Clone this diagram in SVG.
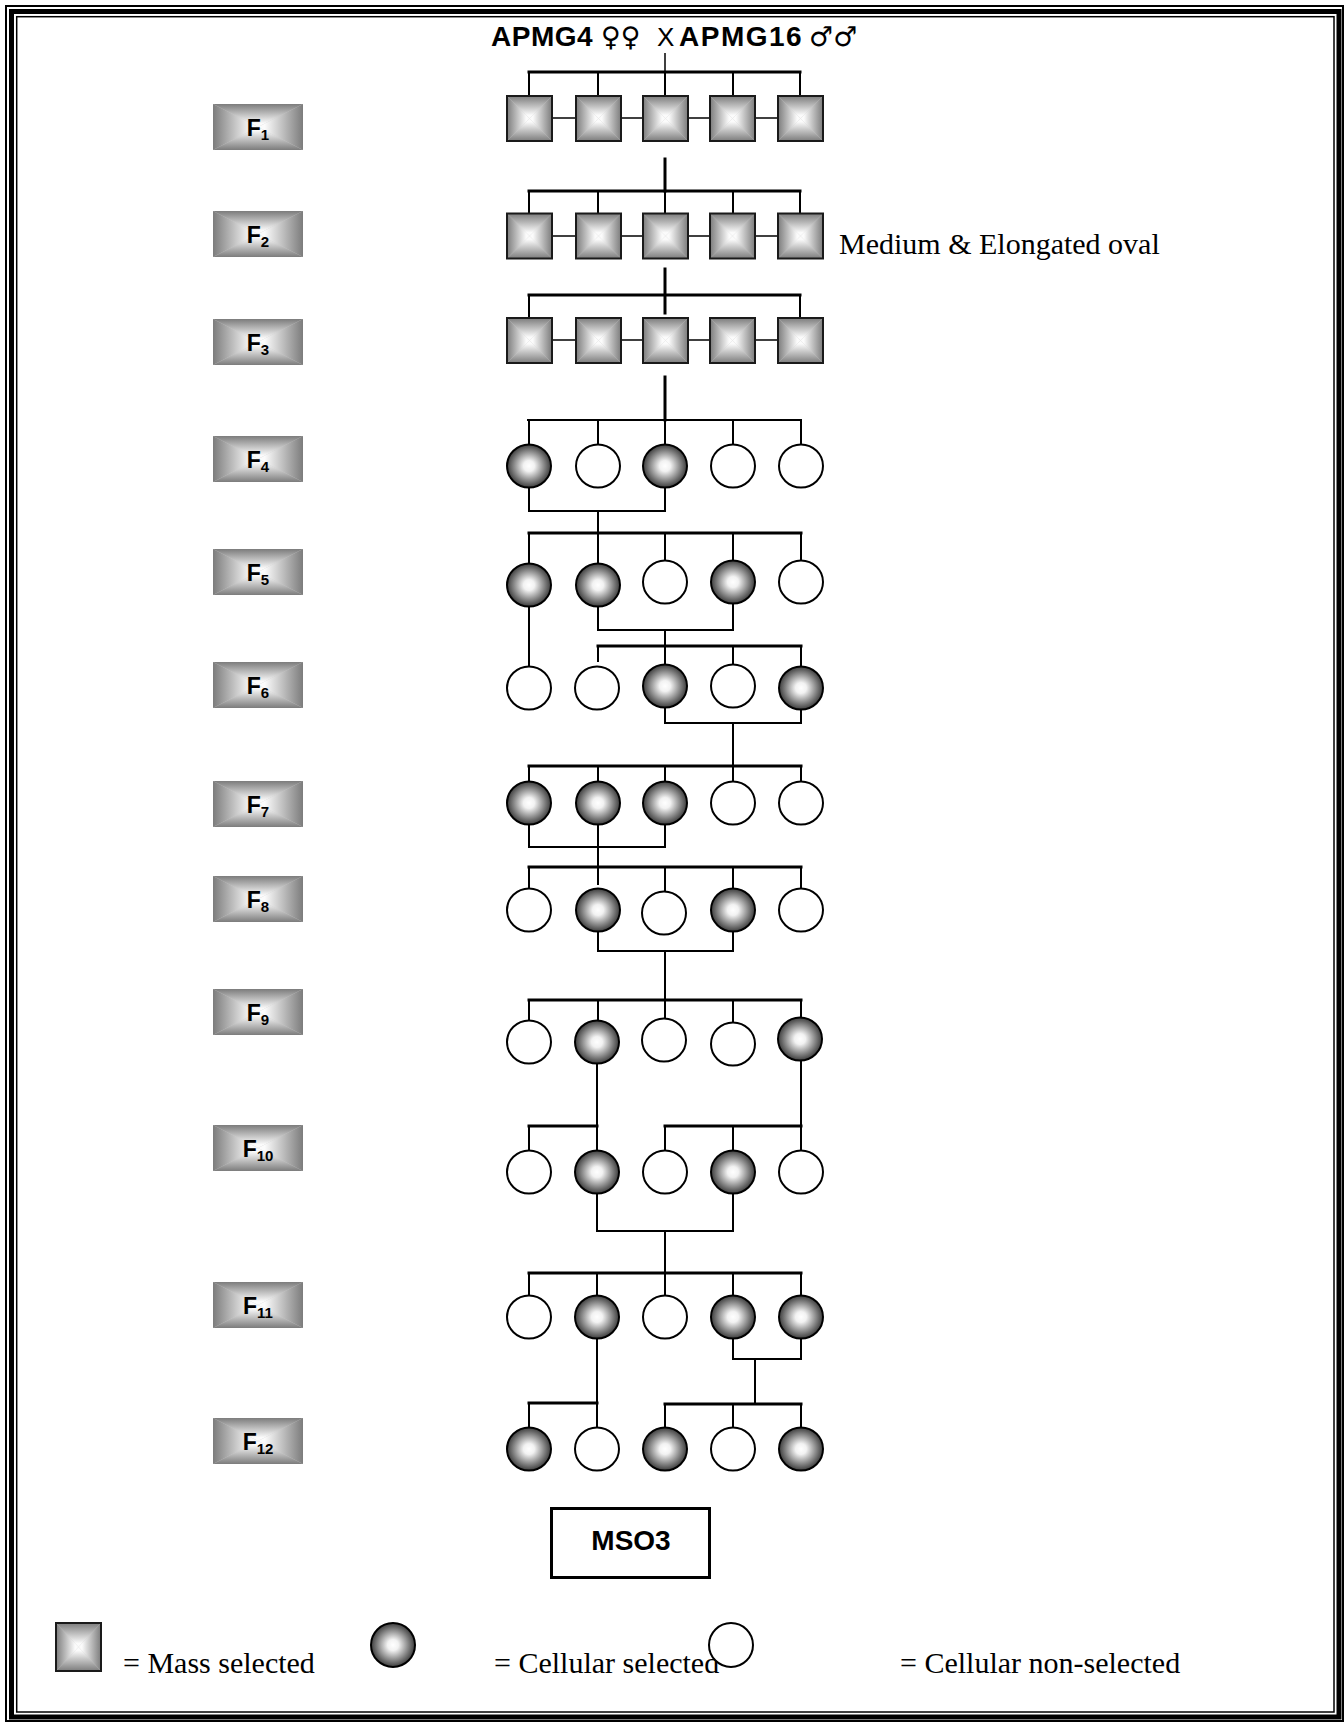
<svg xmlns="http://www.w3.org/2000/svg" width="1344" height="1722" viewBox="0 0 1344 1722">
<style>
.frame{fill:none;stroke:#000}
.ln{fill:none;stroke:#000;stroke-width:2;stroke-linecap:square}
.tk{fill:none;stroke:#000;stroke-width:3;stroke-linecap:square}
.hl{fill:none;stroke:#000;stroke-width:1.5}
.sq{fill:none;stroke:#1a1a1a;stroke-width:2}
.sel{fill:url(#cg);stroke:#000;stroke-width:2}
.non{fill:#fff;stroke:#000;stroke-width:2}
.lab{font-family:"Liberation Sans",Arial,sans-serif;font-weight:bold;font-size:23px;fill:#000}
.sub{font-size:15px}
.title{font-family:"Liberation Sans","DejaVu Sans",Arial,sans-serif;font-size:28px;fill:#000}
.sym{font-family:"DejaVu Sans",sans-serif;font-size:27px;font-weight:normal}
.tnr{font-family:"Liberation Serif","Times New Roman",serif;font-size:30px;fill:#000}
</style>
<defs>
<linearGradient id="gT" x1="0" y1="0" x2="0" y2="1"><stop offset="0" stop-color="#7c7c7c"/><stop offset="0.85" stop-color="#fbfbfb"/></linearGradient>
<linearGradient id="gB" x1="0" y1="1" x2="0" y2="0"><stop offset="0" stop-color="#7c7c7c"/><stop offset="0.85" stop-color="#fbfbfb"/></linearGradient>
<linearGradient id="gL" x1="0" y1="0" x2="1" y2="0"><stop offset="0" stop-color="#7c7c7c"/><stop offset="0.85" stop-color="#fbfbfb"/></linearGradient>
<linearGradient id="gR" x1="1" y1="0" x2="0" y2="0"><stop offset="0" stop-color="#7c7c7c"/><stop offset="0.85" stop-color="#fbfbfb"/></linearGradient>
<radialGradient id="cg" cx="0.5" cy="0.5" r="0.5"><stop offset="0" stop-color="#ffffff"/><stop offset="0.25" stop-color="#f2f2f2"/><stop offset="1" stop-color="#3c3c3c"/></radialGradient>
<symbol id="rg" viewBox="0 0 100 100" preserveAspectRatio="none">
<rect x="0" y="0" width="100" height="100" fill="#c8c8c8"/>
<polygon points="0,0 100,0 50,50" fill="url(#gT)"/>
<polygon points="0,100 100,100 50,50" fill="url(#gB)"/>
<polygon points="0,0 0,100 50,50" fill="url(#gL)"/>
<polygon points="100,0 100,100 50,50" fill="url(#gR)"/>
</symbol>
</defs>
<rect width="1344" height="1722" fill="#fff"/>
<g id="frame">
<rect class="frame" x="6" y="6" width="1337" height="1715" stroke-width="2"/>
<rect class="frame" x="11.5" y="11.5" width="1327.5" height="1705.5" stroke-width="5"/>
<rect class="frame" x="16.7" y="16.7" width="1317.3" height="1695.3" stroke-width="1.5"/>
</g>
<g id="title">
<text class="title" y="46"><tspan x="491" font-weight="bold" letter-spacing="0.5">APMG4</tspan><tspan class="sym" x="601">♀♀</tspan><tspan x="657" font-size="26">X</tspan><tspan x="679" font-weight="bold" letter-spacing="1.5">APMG16</tspan><tspan class="sym" x="809">♂♂</tspan></text>
</g>
<g id="connectors">
<line class="hl" x1="665" y1="53" x2="665" y2="72"/>
<line class="tk" x1="529" y1="72" x2="800" y2="72"/>
<path class="ln" d="M529,72V96M598,72V96M665,72V96M733,72V96M800,72V96" stroke-width="2.5"/>
<line class="hl" x1="530" y1="118" x2="800" y2="118"/>
<line class="tk" x1="665" y1="159" x2="665" y2="191"/>
<line class="tk" x1="529" y1="191" x2="800" y2="191"/>
<path class="ln" d="M529,191V213M598,191V213M665,191V213M733,191V213M800,191V213" stroke-width="2.5"/>
<line class="hl" x1="530" y1="236" x2="800" y2="236"/>
<line class="tk" x1="665" y1="269" x2="665" y2="313"/>
<line class="tk" x1="529" y1="295" x2="800" y2="295"/>
<path class="ln" d="M529,295V318M800,295V318" stroke-width="2.5"/>
<line class="hl" x1="530" y1="340" x2="800" y2="340"/>
<line class="tk" x1="665" y1="377" x2="665" y2="420"/>
<line class="ln" x1="528" y1="420" x2="801" y2="420"/>
<path class="ln" d="M529,420V445M598,420V445M665,420V445M733,420V445M801,420V445"/>
<path class="ln" d="M529,478V511H665V487M598,511V533"/>
<line class="tk" x1="529" y1="533" x2="801" y2="533"/>
<path class="ln" d="M529,533V562M665,533V561M733,533V561M801,533V561"/>
<line class="ln" x1="598" y1="533" x2="598" y2="563" stroke-width="2.5"/>
<path class="ln" d="M598,607V630H733V604M665,630V665"/>
<line class="ln" x1="529" y1="607" x2="529" y2="666"/>
<line class="tk" x1="598" y1="646" x2="801" y2="646"/>
<path class="ln" d="M598,646V661M733,646V664M801,646V666"/>
<path class="ln" d="M665,708V723H801V709M733,723V766"/>
<line class="tk" x1="529" y1="766" x2="801" y2="766"/>
<path class="ln" d="M529,766V782M598,766V782M665,766V782M733,766V782M801,766V782"/>
<path class="ln" d="M529,825V847H665V825M598,825V884"/>
<line class="tk" x1="529" y1="867" x2="801" y2="867"/>
<path class="ln" d="M529,867V888M665,867V891M733,867V888M801,867V888"/>
<path class="ln" d="M598,931V951H733V931M665,951V1000"/>
<line class="tk" x1="529" y1="1000" x2="801" y2="1000"/>
<path class="ln" d="M529,1000V1020M598,1000V1020M665,1000V1018M733,1000V1022M801,1000V1018"/>
<path class="ln" d="M597,1063V1150M801,1061V1151"/>
<line class="tk" x1="529" y1="1126" x2="597" y2="1126"/>
<line class="tk" x1="665" y1="1126" x2="801" y2="1126"/>
<path class="ln" d="M529,1126V1151M665,1126V1151M733,1126V1151"/>
<path class="ln" d="M597,1194V1231H733V1194M665,1231V1273"/>
<line class="tk" x1="529" y1="1273" x2="801" y2="1273"/>
<path class="ln" d="M529,1273V1295M597,1273V1295M665,1273V1295M733,1273V1295M801,1273V1295"/>
<path class="ln" d="M597,1339V1428"/>
<path class="ln" d="M733,1339V1359H801V1337M755,1359V1404"/>
<line class="tk" x1="529" y1="1403" x2="597" y2="1403"/>
<line class="tk" x1="665" y1="1404" x2="801" y2="1404"/>
<path class="ln" d="M529,1403V1427M665,1404V1427M733,1404V1427M801,1404V1427"/>
</g>
<g id="labels">
<g id="label-F1"><use href="#rg" x="213" y="104" width="90" height="46"/><text class="lab" x="258" y="136" text-anchor="middle">F<tspan class="sub" dy="4">1</tspan></text></g>
<g id="label-F2"><use href="#rg" x="213" y="211" width="90" height="46"/><text class="lab" x="258" y="243" text-anchor="middle">F<tspan class="sub" dy="4">2</tspan></text></g>
<g id="label-F3"><use href="#rg" x="213" y="319" width="90" height="46"/><text class="lab" x="258" y="351" text-anchor="middle">F<tspan class="sub" dy="4">3</tspan></text></g>
<g id="label-F4"><use href="#rg" x="213" y="436" width="90" height="46"/><text class="lab" x="258" y="468" text-anchor="middle">F<tspan class="sub" dy="4">4</tspan></text></g>
<g id="label-F5"><use href="#rg" x="213" y="549" width="90" height="46"/><text class="lab" x="258" y="581" text-anchor="middle">F<tspan class="sub" dy="4">5</tspan></text></g>
<g id="label-F6"><use href="#rg" x="213" y="662" width="90" height="46"/><text class="lab" x="258" y="694" text-anchor="middle">F<tspan class="sub" dy="4">6</tspan></text></g>
<g id="label-F7"><use href="#rg" x="213" y="781" width="90" height="46"/><text class="lab" x="258" y="813" text-anchor="middle">F<tspan class="sub" dy="4">7</tspan></text></g>
<g id="label-F8"><use href="#rg" x="213" y="876" width="90" height="46"/><text class="lab" x="258" y="908" text-anchor="middle">F<tspan class="sub" dy="4">8</tspan></text></g>
<g id="label-F9"><use href="#rg" x="213" y="989" width="90" height="46"/><text class="lab" x="258" y="1021" text-anchor="middle">F<tspan class="sub" dy="4">9</tspan></text></g>
<g id="label-F10"><use href="#rg" x="213" y="1125" width="90" height="46"/><text class="lab" x="258" y="1157" text-anchor="middle">F<tspan class="sub" dy="4">10</tspan></text></g>
<g id="label-F11"><use href="#rg" x="213" y="1282" width="90" height="46"/><text class="lab" x="258" y="1314" text-anchor="middle">F<tspan class="sub" dy="4">11</tspan></text></g>
<g id="label-F12"><use href="#rg" x="213" y="1418" width="90" height="46"/><text class="lab" x="258" y="1450" text-anchor="middle">F<tspan class="sub" dy="4">12</tspan></text></g>
</g>
<g id="gen-F1">
<g id="F1-1"><use href="#rg" x="507" y="96" width="45" height="45"/><rect class="sq" x="507" y="96" width="45" height="45"/></g>
<g id="F1-2"><use href="#rg" x="576" y="96" width="45" height="45"/><rect class="sq" x="576" y="96" width="45" height="45"/></g>
<g id="F1-3"><use href="#rg" x="643" y="96" width="45" height="45"/><rect class="sq" x="643" y="96" width="45" height="45"/></g>
<g id="F1-4"><use href="#rg" x="710" y="96" width="45" height="45"/><rect class="sq" x="710" y="96" width="45" height="45"/></g>
<g id="F1-5"><use href="#rg" x="778" y="96" width="45" height="45"/><rect class="sq" x="778" y="96" width="45" height="45"/></g>
</g>
<g id="gen-F2">
<g id="F2-1"><use href="#rg" x="507" y="213.5" width="45" height="45"/><rect class="sq" x="507" y="213.5" width="45" height="45"/></g>
<g id="F2-2"><use href="#rg" x="576" y="213.5" width="45" height="45"/><rect class="sq" x="576" y="213.5" width="45" height="45"/></g>
<g id="F2-3"><use href="#rg" x="643" y="213.5" width="45" height="45"/><rect class="sq" x="643" y="213.5" width="45" height="45"/></g>
<g id="F2-4"><use href="#rg" x="710" y="213.5" width="45" height="45"/><rect class="sq" x="710" y="213.5" width="45" height="45"/></g>
<g id="F2-5"><use href="#rg" x="778" y="213.5" width="45" height="45"/><rect class="sq" x="778" y="213.5" width="45" height="45"/></g>
</g>
<g id="gen-F3">
<g id="F3-1"><use href="#rg" x="507" y="318" width="45" height="45"/><rect class="sq" x="507" y="318" width="45" height="45"/></g>
<g id="F3-2"><use href="#rg" x="576" y="318" width="45" height="45"/><rect class="sq" x="576" y="318" width="45" height="45"/></g>
<g id="F3-3"><use href="#rg" x="643" y="318" width="45" height="45"/><rect class="sq" x="643" y="318" width="45" height="45"/></g>
<g id="F3-4"><use href="#rg" x="710" y="318" width="45" height="45"/><rect class="sq" x="710" y="318" width="45" height="45"/></g>
<g id="F3-5"><use href="#rg" x="778" y="318" width="45" height="45"/><rect class="sq" x="778" y="318" width="45" height="45"/></g>
</g>
<g id="gen-F4">
<ellipse id="F4-1" class="sel" cx="529" cy="466" rx="22" ry="21.5"/>
<ellipse id="F4-2" class="non" cx="598" cy="466" rx="22" ry="21.5"/>
<ellipse id="F4-3" class="sel" cx="665" cy="466" rx="22" ry="21.5"/>
<ellipse id="F4-4" class="non" cx="733" cy="466" rx="22" ry="21.5"/>
<ellipse id="F4-5" class="non" cx="801" cy="466" rx="22" ry="21.5"/>
</g>
<g id="gen-F5">
<ellipse id="F5-1" class="sel" cx="529" cy="585" rx="22" ry="21.5"/>
<ellipse id="F5-2" class="sel" cx="598" cy="585" rx="22" ry="21.5"/>
<ellipse id="F5-3" class="non" cx="665" cy="582" rx="22" ry="21.5"/>
<ellipse id="F5-4" class="sel" cx="733" cy="582" rx="22" ry="21.5"/>
<ellipse id="F5-5" class="non" cx="801" cy="582" rx="22" ry="21.5"/>
</g>
<g id="gen-F6">
<ellipse id="F6-1" class="non" cx="529" cy="688" rx="22" ry="21.5"/>
<ellipse id="F6-2" class="non" cx="597" cy="688" rx="22" ry="21.5"/>
<ellipse id="F6-3" class="sel" cx="665" cy="686" rx="22" ry="21.5"/>
<ellipse id="F6-4" class="non" cx="733" cy="686" rx="22" ry="21.5"/>
<ellipse id="F6-5" class="sel" cx="801" cy="688" rx="22" ry="21.5"/>
</g>
<g id="gen-F7">
<ellipse id="F7-1" class="sel" cx="529" cy="803" rx="22" ry="21.5"/>
<ellipse id="F7-2" class="sel" cx="598" cy="803" rx="22" ry="21.5"/>
<ellipse id="F7-3" class="sel" cx="665" cy="803" rx="22" ry="21.5"/>
<ellipse id="F7-4" class="non" cx="733" cy="803" rx="22" ry="21.5"/>
<ellipse id="F7-5" class="non" cx="801" cy="803" rx="22" ry="21.5"/>
</g>
<g id="gen-F8">
<ellipse id="F8-1" class="non" cx="529" cy="910" rx="22" ry="21.5"/>
<ellipse id="F8-2" class="sel" cx="598" cy="910" rx="22" ry="21.5"/>
<ellipse id="F8-3" class="non" cx="664" cy="913" rx="22" ry="21.5"/>
<ellipse id="F8-4" class="sel" cx="733" cy="910" rx="22" ry="21.5"/>
<ellipse id="F8-5" class="non" cx="801" cy="910" rx="22" ry="21.5"/>
</g>
<g id="gen-F9">
<ellipse id="F9-1" class="non" cx="529" cy="1042" rx="22" ry="21.5"/>
<ellipse id="F9-2" class="sel" cx="597" cy="1042" rx="22" ry="21.5"/>
<ellipse id="F9-3" class="non" cx="664" cy="1040" rx="22" ry="21.5"/>
<ellipse id="F9-4" class="non" cx="733" cy="1044" rx="22" ry="21.5"/>
<ellipse id="F9-5" class="sel" cx="800" cy="1039" rx="22" ry="21.5"/>
</g>
<g id="gen-F10">
<ellipse id="F10-1" class="non" cx="529" cy="1172" rx="22" ry="21.5"/>
<ellipse id="F10-2" class="sel" cx="597" cy="1172" rx="22" ry="21.5"/>
<ellipse id="F10-3" class="non" cx="665" cy="1172" rx="22" ry="21.5"/>
<ellipse id="F10-4" class="sel" cx="733" cy="1172" rx="22" ry="21.5"/>
<ellipse id="F10-5" class="non" cx="801" cy="1172" rx="22" ry="21.5"/>
</g>
<g id="gen-F11">
<ellipse id="F11-1" class="non" cx="529" cy="1317" rx="22" ry="21.5"/>
<ellipse id="F11-2" class="sel" cx="597" cy="1317" rx="22" ry="21.5"/>
<ellipse id="F11-3" class="non" cx="665" cy="1317" rx="22" ry="21.5"/>
<ellipse id="F11-4" class="sel" cx="733" cy="1317" rx="22" ry="21.5"/>
<ellipse id="F11-5" class="sel" cx="801" cy="1317" rx="22" ry="21.5"/>
</g>
<g id="gen-F12">
<ellipse id="F12-1" class="sel" cx="529" cy="1449" rx="22" ry="21.5"/>
<ellipse id="F12-2" class="non" cx="597" cy="1449" rx="22" ry="21.5"/>
<ellipse id="F12-3" class="sel" cx="665" cy="1449" rx="22" ry="21.5"/>
<ellipse id="F12-4" class="non" cx="733" cy="1449" rx="22" ry="21.5"/>
<ellipse id="F12-5" class="sel" cx="801" cy="1449" rx="22" ry="21.5"/>
</g>
<g id="note">
<text class="tnr" x="839" y="254">Medium &amp; Elongated oval</text>
</g>
<g id="MSO3">
<rect x="551.5" y="1508.5" width="158" height="69" fill="#fff" stroke="#000" stroke-width="3"/>
<text class="title" x="631" y="1550" text-anchor="middle" font-weight="bold">MSO3</text>
</g>
<g id="legend">
<g id="legend-mass"><use href="#rg" x="56" y="1623" width="45" height="48"/><rect class="sq" x="56" y="1623" width="45" height="48"/><text class="tnr" x="123" y="1673">= Mass selected</text></g>
<g id="legend-sel"><ellipse class="sel" cx="393" cy="1645" rx="22" ry="22"/><text class="tnr" x="494" y="1673">= Cellular selected</text></g>
<g id="legend-non"><ellipse class="non" cx="731" cy="1645" rx="22" ry="22" fill="none"/><text class="tnr" x="900" y="1673">= Cellular non-selected</text></g>
</g>
</svg>
